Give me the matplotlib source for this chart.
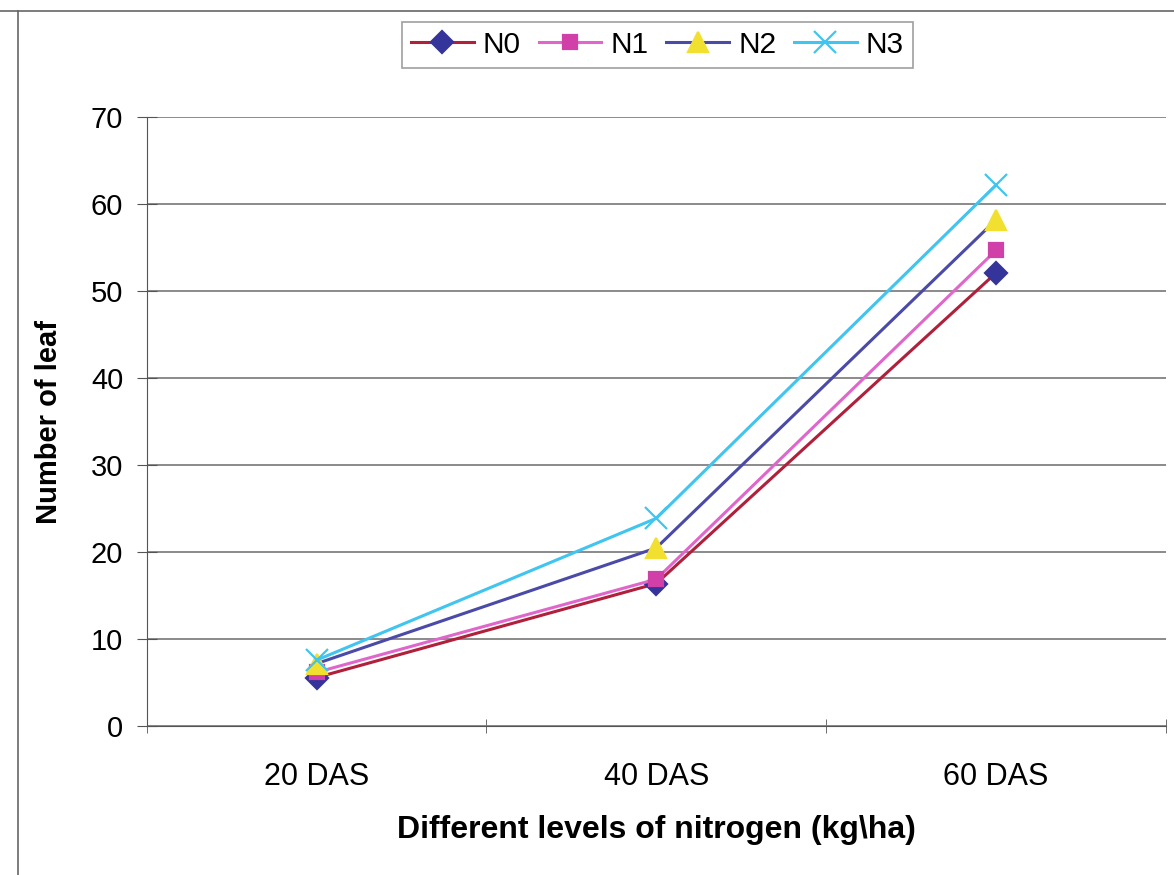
import matplotlib
matplotlib.use('Agg')
import matplotlib.pyplot as plt
from matplotlib.lines import Line2D

plt.rcParams['font.family'] = ['Liberation Sans', 'DejaVu Sans']

categories = ['20 DAS', '40 DAS', '60 DAS']
n0 = [5.6, 16.4, 52.1]
n1 = [6.2, 16.9, 54.7]
n2 = [7.2, 20.5, 58.2]
n3 = [7.6, 23.9, 62.2]

series = [
    ('N0', n0, '#b0203a', 'D', '#34349a', 11),
    ('N1', n1, '#e066cc', 's', '#d040a8', 10),
    ('N2', n2, '#4a4aa8', '^', '#f2e030', 15),
    ('N3', n3, '#40c4f0', 'x', '#40c4f0', 16),
]

fig = plt.figure(figsize=(11.74, 8.75), dpi=100)
ax = fig.add_axes([0.125, 0.170, 0.868, 0.696])

x = [i + 0.5 for i in range(len(categories))]
for name, vals, lc, mk, mc, ms in series:
    ax.plot(x, vals, color=lc, lw=2.2, marker=mk, markersize=ms,
            markerfacecolor=mc, markeredgecolor=mc, markeredgewidth=1.6, label=name)

ax.set_xlim(0, 3)
ax.set_ylim(0, 70)
ax.set_yticks(range(0, 71, 10))
ax.set_xticks(x)
ax.set_xticklabels(categories)
ax.set_xticks([0, 1, 2, 3], minor=True)
ax.tick_params(axis='x', which='major', length=0, pad=26, labelsize=22)
ax.tick_params(axis='x', which='minor', length=10, direction='inout', color='#555555')
ax.tick_params(axis='y', length=14, direction='inout', color='#555555', labelsize=21, pad=10)
ax.grid(axis='y', color='#777777', lw=1.2)
ax.set_axisbelow(True)
for side in ['top', 'right']:
    ax.spines[side].set_visible(False)
ax.spines['left'].set_color('#555555')
ax.spines['bottom'].set_color('#555555')

ax.set_xlabel('Different levels of nitrogen (kg\\ha)', fontsize=23, fontweight='bold', labelpad=16)
ax.set_ylabel('Number of leaf', fontsize=21, fontweight='bold', labelpad=20)

handles = [Line2D([], [], color=lc, lw=2.2, marker=mk, markersize=ms,
                  markerfacecolor=mc, markeredgecolor=mc, markeredgewidth=1.6)
           for _, _, lc, mk, mc, ms in series]
leg = fig.legend(handles, [s[0] for s in series], loc='center', bbox_to_anchor=(0.56, 0.949),
                 ncol=4, fontsize=21.5, frameon=True, fancybox=False, handlelength=2.1,
                 columnspacing=0.6, handletextpad=0.3, borderpad=0.3)
leg.get_frame().set_edgecolor('#888888')
leg.get_frame().set_linewidth(1.2)

# chart area border
fig.add_artist(Line2D([0, 1], [0.988, 0.988], transform=fig.transFigure, color='#666666', lw=1.2))
fig.add_artist(Line2D([0.015, 0.015], [0, 0.988], transform=fig.transFigure, color='#666666', lw=1.2))

plt.savefig('out.png', dpi=100)
